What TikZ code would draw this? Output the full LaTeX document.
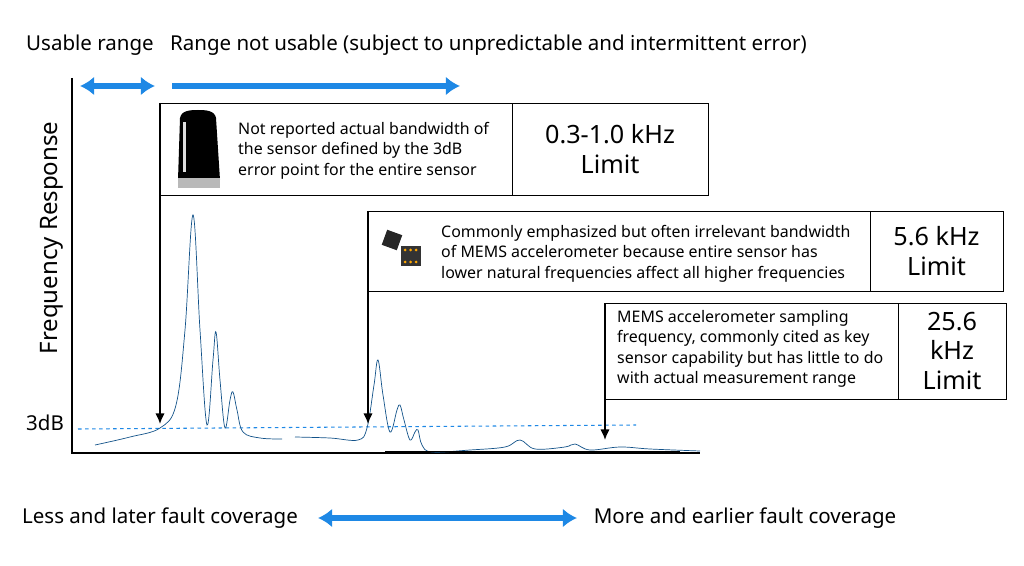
\documentclass[tikz,border=0pt]{standalone}
\usepackage{fontspec}
\setmainfont{Noto Sans}
\usetikzlibrary{arrows.meta,positioning}
\definecolor{flowblue}{RGB}{30,136,229}
\tikzset{
  bluearrow/.style={flowblue,line width=4.5pt,-{Latex[length=12pt,width=16pt]}},
  bluedouble/.style={flowblue,line width=4.5pt,{Latex[length=12pt,width=16pt]}-{Latex[length=12pt,width=16pt]}},
  infobox/.style={draw=black,line width=0.8pt},
  downarrow/.style={black,line width=1.3pt,-{Latex[length=9pt,width=8pt]}},
  lbl/.style={font=\fontsize{17.5}{20}\selectfont},
  note/.style={font=\fontsize{13.6}{17.5}\selectfont,align=left,anchor=north west,inner sep=0pt},
  limit/.style={font=\fontsize{21.5}{25}\selectfont,align=center}
}
\begin{document}
\begin{tikzpicture}[x=0.03cm,y=-0.03cm]
  \useasboundingbox (0,0) rectangle (1024,566);
  % headings
  \node[lbl] (usable) at (90,45) {Usable range};
  \node[lbl,anchor=west] (notusable) at (166,45) {Range not usable (subject to unpredictable and intermittent error)};
  \coordinate (u1) at (80,86); \coordinate (u2) at (155,86);
  \coordinate (n1) at (172,86); \coordinate (n2) at (460,86);
  \draw[bluedouble] (u1) -- (u2);
  \draw[bluearrow] (n1) -- (n2);
  % axes
  \coordinate (o) at (72,453);
  \draw[line width=1pt] (72,78) -- (o) -- (700,453);
  \node[lbl,font=\fontsize{20.5}{24}\selectfont,rotate=90] (resp) at (52,238) {Frequency Response};
  \node[lbl] (db) at (45,423) {3dB};
  \draw[flowblue,dashed,line width=0.9pt] (78,429) -- (636,425);
  % response curve
  \draw[flowblue!60!black,line width=0.6pt] plot[smooth,tension=0.6] coordinates {
    (95,445) (130,437) (160,428) (176,405) (185,330) (193,215) (200,330)
    (207,425) (213,360) (216,332) (220,380) (225,428) (230,400) (233,392) (237,410) (243,432) (260,438) (282,439)};
  \draw[flowblue!60!black,line width=0.6pt] plot[smooth,tension=0.6] coordinates {
    (295,437) (330,438) (358,440) (367,428) (374,385) (378,360) (383,395) (390,432)
    (397,410) (400,405) (404,420) (410,440) (415,432) (418,430) (422,445) (432,452) (470,450)
    (505,447) (520,440) (535,449) (565,447) (575,444) (590,450) (620,447) (650,449) (700,451)};
  \draw[black,line width=0.6pt] (385,451) -- (680,451);
  % box 1
  \draw[infobox] (160,103) coordinate (box1) rectangle (512,195);
  \draw[infobox] (512,103) rectangle (708,195);
  \node[limit] (lim1) at (610,149) {0.3-1.0 kHz\\Limit};
  \node[note] (txt1) at (238,122) {Not reported actual bandwidth of\\the sensor defined by the 3dB\\error point for the entire sensor};
  \fill[black] (180,118) to[out=80,in=180] (198,110) to[out=0,in=100] (216,118) -- (220,180) -- (178,180) -- cycle;
  \fill[gray!55] (178,178) rectangle (220,188);
  \fill[gray!25] (183,122) rectangle (186,172);
  \coordinate (a1) at (160,424);
  \draw[downarrow] (box1) -- (a1);
  % box 2
  \draw[infobox] (368,211) coordinate (box2) rectangle (870,291);
  \draw[infobox] (870,211) rectangle (1003,291);
  \node[limit] (lim2) at (936.5,251) {5.6 kHz\\Limit};
  \node[note] (txt2) at (441,225) {Commonly emphasized but often irrelevant bandwidth\\of MEMS accelerometer because entire sensor has\\lower natural frequencies affect all higher frequencies};
  \fill[black!85,rotate around={-20:(392,240)}] (384,232) rectangle (400,248);
  \fill[black!80] (401,246) rectangle (421,266);
  \foreach \i in {0,1,2} { \fill[orange!70!yellow] (405+5.5*\i,250) circle (1.5); \fill[orange!70!yellow] (405+5.5*\i,262) circle (1.5); }
  \coordinate (a2) at (368,424);
  \draw[downarrow] (box2) -- (a2);
  % box 3
  \draw[infobox] (605,303) coordinate (box3) rectangle (898,399);
  \draw[infobox] (898,303) rectangle (1006,399);
  \node[limit] (lim3) at (952,351) {25.6\\kHz\\Limit};
  \node[note] (txt3) at (617,310) {MEMS accelerometer sampling\\frequency, commonly cited as key\\sensor capability but has little to do\\with actual measurement range};
  \coordinate (a3) at (605,440);
  \draw[downarrow] (box3) -- (a3);
  % bottom scale
  \node[lbl] (less) at (160,518) {Less and later fault coverage};
  \node[lbl] (more) at (745,518) {More and earlier fault coverage};
  \coordinate (b1) at (318,518); \coordinate (b2) at (577,518);
  \draw[bluedouble] (b1) -- (b2);
\end{tikzpicture}
\end{document}
